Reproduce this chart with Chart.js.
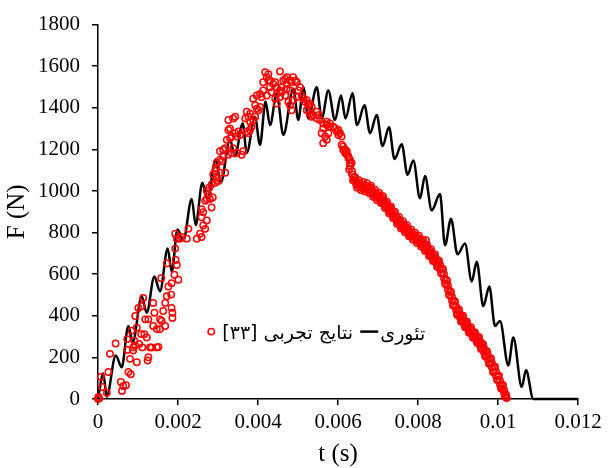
<!DOCTYPE html>
<html>
<head>
<meta charset="utf-8">
<script src="https://cdn.jsdelivr.net/npm/chart.js@4.4.0/dist/chart.umd.min.js"></script>
<style>
    html, body { margin: 0; padding: 0; background: #fff; }
    #chart-canvas { display: block; }
</style>
</head>
<body>
<canvas id="chart-canvas" width="608" height="468"></canvas>
<script>
//////////////////////////////////////////////////
/////       Data    //////////
//////////////////////////////////////////////////

// experimental results [33]: [t (s), F (N)]
var experimental = [
    [0, 0], [0.00001, 10], [0.00003, 3], [0.00007, 106], [0.00011, 58], [0.00022, 30], [0.00026, 130],
    [0.0003, 217], [0.00044, 267], [0.00057, 82], [0.0006, 39], [0.00063, 62], [0.0007, 66],
    [0.00073, 288], [0.00073, 236], [0.00076, 130], [0.0008, 193], [0.00082, 119], [0.00084, 328],
    [0.00088, 248], [0.00088, 233], [0.00091, 280], [0.00093, 399], [0.00093, 256], [0.00097, 343],
    [0.00097, 177], [0.00101, 438], [0.00103, 265], [0.00108, 312], [0.00109, 446], [0.00111, 248],
    [0.00113, 486], [0.00116, 312], [0.00118, 383], [0.00122, 296], [0.00124, 185], [0.00126, 201],
    [0.00126, 383], [0.0013, 248], [0.00134, 248], [0.00138, 462], [0.00138, 351], [0.00141, 415],
    [0.00147, 248], [0.00147, 336], [0.00151, 250], [0.00155, 383], [0.00155, 336], [0.00158, 581],
    [0.00159, 375], [0.00163, 423], [0.00168, 351], [0.00168, 462], [0.00172, 494], [0.00172, 652],
    [0.00176, 541], [0.00183, 502], [0.00184, 557], [0.00184, 438], [0.00186, 415], [0.00186, 390],
    [0.00191, 597], [0.00193, 723], [0.00193, 795], [0.00194, 668], [0.00197, 771], [0.00197, 644],
    [0.00201, 573], [0.00205, 771], [0.00209, 779], [0.00222, 771], [0.00226, 818], [0.00247, 771],
    [0.00255, 795], [0.00259, 779], [0.00259, 874], [0.00259, 913], [0.00263, 834], [0.00263, 898],
    [0.00268, 818], [0.00268, 953], [0.00272, 858], [0.00272, 961], [0.00272, 1001], [0.00276, 984],
    [0.00278, 1016], [0.0028, 961], [0.00284, 921], [0.00284, 1032], [0.00287, 969], [0.00288, 1079],
    [0.00293, 1040], [0.00293, 1096], [0.00295, 1111], [0.00297, 1064], [0.00297, 1135], [0.00301, 1048],
    [0.00305, 1088], [0.00305, 1151], [0.00305, 1191], [0.00309, 1143], [0.00313, 1167], [0.00313, 1198],
    [0.00318, 1088], [0.00318, 1206], [0.00322, 1246], [0.00326, 1174], [0.00326, 1293], [0.00326, 1341],
    [0.0033, 1254], [0.0033, 1301], [0.00334, 1183], [0.00334, 1262], [0.00338, 1206], [0.00338, 1349],
    [0.00343, 1278], [0.00343, 1357], [0.00347, 1183], [0.00347, 1262], [0.00351, 1286], [0.00355, 1269],
    [0.00359, 1174], [0.00363, 1191], [0.00368, 1349], [0.00372, 1286], [0.00372, 1381], [0.00376, 1278],
    [0.00376, 1357], [0.0038, 1333], [0.0038, 1293], [0.0038, 1372], [0.00384, 1309], [0.00388, 1341],
    [0.00388, 1444], [0.00393, 1357], [0.00393, 1412], [0.00397, 1396], [0.00397, 1459], [0.00401, 1388],
    [0.00405, 1404], [0.00405, 1467], [0.00409, 1452], [0.00413, 1483], [0.00413, 1523], [0.00418, 1571],
    [0.00422, 1547], [0.00422, 1459], [0.00426, 1531], [0.00426, 1562], [0.0043, 1531], [0.0043, 1499],
    [0.00434, 1475], [0.00438, 1515], [0.00443, 1523], [0.00443, 1444], [0.00447, 1499], [0.00447, 1420],
    [0.00447, 1467], [0.00455, 1575], [0.00455, 1483], [0.00455, 1452], [0.00459, 1499], [0.00459, 1475],
    [0.00463, 1531], [0.00468, 1539], [0.00468, 1459], [0.00472, 1547], [0.00472, 1515], [0.00472, 1491],
    [0.00476, 1428], [0.0048, 1531], [0.0048, 1483], [0.0048, 1412], [0.00484, 1523], [0.00484, 1388],
    [0.00488, 1547], [0.00488, 1436], [0.00493, 1531], [0.00497, 1523], [0.00497, 1452], [0.00501, 1483],
    [0.00505, 1499], [0.00509, 1459], [0.00513, 1444], [0.00518, 1428], [0.00522, 1388], [0.00522, 1436],
    [0.00526, 1412], [0.0053, 1420], [0.0053, 1372], [0.00534, 1404], [0.00534, 1357], [0.00538, 1364],
    [0.00547, 1381], [0.00547, 1349], [0.00551, 1364], [0.00555, 1341], [0.00559, 1278], [0.00563, 1325],
    [0.00563, 1301], [0.00563, 1230], [0.00568, 1262], [0.00572, 1333], [0.00572, 1317], [0.00572, 1246],
    [0.00576, 1278], [0.0058, 1325], [0.0058, 1309], [0.00588, 1309], [0.00593, 1301], [0.00597, 1286],
    [0.00601, 1293], [0.00601, 1269], [0.00605, 1278], [0.00609, 1262], [0.00609, 1222], [0.00613, 1214],
    [0.00613, 1198], [0.00618, 1198], [0.00618, 1183], [0.00622, 1191], [0.00622, 1175], [0.00626, 1167],
    [0.00626, 1159], [0.00628, 1103], [0.0063, 1151], [0.0063, 1135], [0.0063, 1119], [0.00634, 1135],
    [0.00635, 1095], [0.00635, 1080], [0.0064, 1065], [0.0064, 1050], [0.00645, 1050], [0.00645, 1035],
    [0.0065, 1040], [0.0065, 1025], [0.00655, 1035], [0.00655, 1020], [0.0066, 1030], [0.0066, 1015],
    [0.00665, 1028], [0.00665, 1012], [0.0067, 1025], [0.0067, 1008], [0.00675, 1022], [0.00675, 1005],
    [0.0068, 1018], [0.0068, 1000], [0.00685, 1005], [0.00685, 990], [0.0069, 995], [0.0069, 980],
    [0.00695, 990], [0.00695, 972], [0.007, 982], [0.007, 965], [0.00705, 975], [0.00705, 958],
    [0.0071, 968], [0.0071, 950], [0.00715, 955], [0.00715, 938], [0.0072, 940], [0.0072, 925],
    [0.00725, 930], [0.00725, 912], [0.0073, 918], [0.0073, 900], [0.00735, 905], [0.00735, 890],
    [0.0074, 892], [0.0074, 878], [0.00745, 878], [0.00745, 862], [0.0075, 866], [0.0075, 850],
    [0.00755, 855], [0.00755, 838], [0.0076, 845], [0.0076, 828], [0.00765, 835], [0.00765, 818],
    [0.0077, 826], [0.0077, 810], [0.00775, 816], [0.00775, 800], [0.0078, 806], [0.0078, 790],
    [0.00785, 798], [0.00785, 782], [0.0079, 790], [0.0079, 775], [0.00795, 782], [0.00795, 766],
    [0.008, 775], [0.008, 758], [0.00805, 768], [0.00805, 750], [0.0081, 758], [0.0081, 742],
    [0.00815, 748], [0.00815, 730], [0.0082, 736], [0.0082, 763], [0.0082, 720], [0.00825, 725],
    [0.00825, 705], [0.0083, 712], [0.0083, 695], [0.00835, 700], [0.00835, 682], [0.0084, 688],
    [0.0084, 670], [0.00845, 675], [0.00845, 656], [0.0085, 660], [0.0085, 642], [0.00855, 646],
    [0.00855, 625], [0.0086, 628], [0.0086, 605], [0.00865, 600], [0.00865, 580], [0.0087, 572],
    [0.0087, 552], [0.00875, 545], [0.00875, 525], [0.0088, 518], [0.0088, 498], [0.00885, 492],
    [0.00885, 474], [0.0089, 470], [0.0089, 450], [0.00895, 445], [0.00895, 428], [0.009, 425],
    [0.009, 408], [0.00905, 408], [0.00905, 392], [0.0091, 395], [0.0091, 378], [0.00915, 380],
    [0.00915, 362], [0.0092, 366], [0.0092, 348], [0.00925, 352], [0.00925, 335], [0.0093, 338],
    [0.0093, 322], [0.00935, 328], [0.00935, 310], [0.0094, 316], [0.0094, 298], [0.00945, 304],
    [0.00945, 285], [0.0095, 292], [0.0095, 272], [0.00955, 278], [0.00955, 258], [0.0096, 262],
    [0.0096, 242], [0.00965, 245], [0.00965, 225], [0.0097, 228], [0.0097, 208], [0.00975, 210],
    [0.00975, 190], [0.0098, 192], [0.0098, 172], [0.00985, 172], [0.00985, 152], [0.0099, 152],
    [0.0099, 132], [0.00995, 132], [0.00995, 112], [0.01, 110], [0.01, 90], [0.01005, 88],
    [0.01005, 70], [0.0101, 66], [0.0101, 50], [0.01015, 45], [0.01015, 30], [0.0102, 22],
    [0.0102, 10], [0.01018, 12], [0.01022, 5],
    // scattered circles on the edges of the falling band
    [0.006375, 1052], [0.006425, 1068], [0.006475, 1016], [0.006525, 1052], [0.006575, 1004],
    [0.006625, 1043], [0.006675, 998], [0.006725, 1037], [0.006775, 990], [0.006825, 1025],
    [0.006875, 972], [0.006925, 1006], [0.006975, 955], [0.007025, 992], [0.007075, 942],
    [0.007125, 975], [0.007175, 918], [0.007225, 948], [0.007275, 893], [0.007325, 925],
    [0.007375, 870], [0.007425, 900], [0.007475, 842], [0.007525, 875], [0.007575, 820],
    [0.007625, 855], [0.007675, 802], [0.007725, 835], [0.007775, 782], [0.007825, 815],
    [0.007875, 766], [0.007925, 800], [0.007975, 750], [0.008025, 785], [0.008075, 733],
    [0.008125, 766], [0.008175, 712], [0.008225, 742], [0.008275, 688], [0.008325, 720],
    [0.008375, 663], [0.008425, 695], [0.008475, 636], [0.008525, 665], [0.008575, 605],
    [0.008625, 625], [0.008675, 555], [0.008725, 570], [0.008775, 500], [0.008825, 515],
    [0.008875, 450], [0.008925, 470], [0.008975, 405], [0.009025, 430], [0.009075, 372],
    [0.009125, 400], [0.009175, 345], [0.009225, 372], [0.009275, 318], [0.009325, 345],
    [0.009375, 295], [0.009425, 320], [0.009475, 270], [0.009525, 298], [0.009575, 240],
    [0.009625, 265], [0.009675, 205], [0.009725, 230], [0.009775, 170], [0.009825, 195],
    [0.009875, 130], [0.009925, 155], [0.009975, 92], [0.010025, 112], [0.010075, 50],
    [0.010125, 68], [0.010175, 12]
];

// theory: peaks and troughs of the oscillating curve [t (s), F (N)]
var theory = [
    [0, 0], [0.000133, 122], [0.000218, 11], [0.000443, 209], [0.000593, 153], [0.000758, 351],
    [0.000868, 272], [0.001093, 494], [0.001218, 415], [0.001408, 589], [0.00155, 518], [0.001743, 723],
    [0.001843, 612], [0.001988, 815], [0.002133, 763], [0.002343, 961], [0.002443, 836], [0.002608, 1040],
    [0.002733, 961], [0.002943, 1151], [0.003068, 1040], [0.0033, 1246], [0.003425, 1167], [0.003618, 1325],
    [0.003718, 1183], [0.003925, 1357], [0.00405, 1222], [0.004188, 1430], [0.0043, 1317], [0.004468, 1468],
    [0.004633, 1270], [0.004883, 1491], [0.005008, 1341], [0.005133, 1499], [0.005258, 1349], [0.005468, 1499],
    [0.005593, 1349], [0.005758, 1483], [0.005925, 1341], [0.006075, 1459], [0.006188, 1349], [0.006363, 1470],
    [0.006475, 1317], [0.006663, 1412], [0.0068, 1278], [0.006968, 1365], [0.007113, 1216], [0.007275, 1306],
    [0.007413, 1154], [0.007593, 1225], [0.007738, 1078], [0.007883, 1147], [0.00805, 965], [0.008175, 1072],
    [0.008343, 907], [0.00855, 985], [0.008675, 739], [0.008825, 866], [0.008988, 696], [0.009175, 747],
    [0.009343, 565], [0.009468, 660], [0.009633, 446], [0.009783, 541], [0.009925, 351], [0.01005, 375],
    [0.010258, 161], [0.010383, 296], [0.010593, 58], [0.0107, 138], [0.010883, 0], [0.012, 0]
];

var seriesNames = ['نتایج تجربی [۳۳]', 'تئوری'];
var xRange = [0, 0.012], xStep = 0.002;
var yRange = [0, 1800], yStep = 200;

function toXY(pairs) {
    return pairs.map(function (p) { return { x: p[0], y: p[1] }; });
}

//////////////////////////////////////////////////
/////       Legend drawn inside the plot    //////
//////////////////////////////////////////////////

var insideLegend = {
    id: 'insideLegend',
    afterDraw: function (chart) {
        var ctx = chart.ctx;
        var area = chart.chartArea;
        var exp = chart.data.datasets[0], th = chart.data.datasets[1];
        var y = area.top + (area.bottom - area.top) * 0.82;
        var x = area.left + (area.right - area.left) * 0.236;

        ctx.save();
        ctx.strokeStyle = exp.pointBorderColor;
        ctx.lineWidth = exp.pointBorderWidth;
        ctx.beginPath();
        ctx.arc(x, y, exp.pointRadius, 0, Math.PI * 2);
        ctx.stroke();

        ctx.fillStyle = '#000';
        ctx.font = '19px "DejaVu Sans"';
        ctx.textBaseline = 'middle';
        ctx.textAlign = 'left';
        ctx.direction = 'rtl';
        ctx.fillText(seriesNames[0], x + 11, y + 2);

        var lx = x + 149;
        ctx.strokeStyle = th.borderColor;
        ctx.lineWidth = th.borderWidth;
        ctx.beginPath();
        ctx.moveTo(lx, y);
        ctx.lineTo(lx + 18, y);
        ctx.stroke();
        ctx.fillText(seriesNames[1], lx + 20, y + 3);
        ctx.restore();
    }
};

//////////////////////////////////////////////////
/////       For Loading chart.js    //////////////
//////////////////////////////////////////////////

var tickFont = { family: '"Liberation Serif", "Times New Roman", serif', size: 21 };
var titleFont = { family: '"Liberation Serif", "Times New Roman", serif', size: 25, lineHeight: 1.1 };

var ctx = document.getElementById('chart-canvas').getContext('2d');
var myChart = new Chart(ctx, {
    type: 'scatter',
    data: {
        datasets: [
            {
                label: seriesNames[0],
                data: toXY(experimental),
                showLine: false,
                pointStyle: 'circle',
                pointRadius: 3.2,
                pointBorderWidth: 1.5,
                pointBorderColor: '#ff0000',
                pointBackgroundColor: 'rgba(0,0,0,0)',
                clip: false
            },
            {
                label: seriesNames[1],
                data: toXY(theory),
                showLine: true,
                pointRadius: 0,
                borderColor: '#000000',
                borderWidth: 2.5,
                cubicInterpolationMode: 'monotone',
                clip: false
            }
        ]
    },
    options: {
        responsive: false,
        animation: false,
        devicePixelRatio: 1,
        layout: { padding: { top: 20, right: 30, left: 0, bottom: 0 } },
        plugins: {
            legend: { display: false },
            tooltip: { enabled: false }
        },
        scales: {
            x: {
                type: 'linear',
                min: xRange[0],
                max: xRange[1],
                afterFit: function (scale) { scale.height = 69; },
                grid: { drawOnChartArea: false, drawTicks: true, tickLength: 6, color: '#000', lineWidth: 1.5 },
                border: { display: true, color: '#000', width: 1.5 },
                ticks: {
                    stepSize: xStep,
                    padding: 5,
                    color: '#000',
                    font: tickFont,
                    maxRotation: 0,
                    callback: function (v) { return String(Number(v.toFixed(4))); }
                },
                title: { display: true, text: 't (s)', color: '#000', font: titleFont, padding: { top: 0, bottom: 0 } }
            },
            y: {
                type: 'linear',
                min: yRange[0],
                max: yRange[1],
                afterFit: function (scale) { scale.width = 98; },
                grid: { drawOnChartArea: false, drawTicks: true, tickLength: 6, color: '#000', lineWidth: 1.5 },
                border: { display: true, color: '#000', width: 1.5 },
                ticks: {
                    stepSize: yStep,
                    padding: 12,
                    color: '#000',
                    font: tickFont,
                    callback: function (v) { return String(v); }
                },
                title: { display: true, text: 'F (N)', color: '#000', font: titleFont, padding: { top: 4, bottom: 0 } }
            }
        }
    },
    plugins: [insideLegend]
});
</script>
</body>
</html>
